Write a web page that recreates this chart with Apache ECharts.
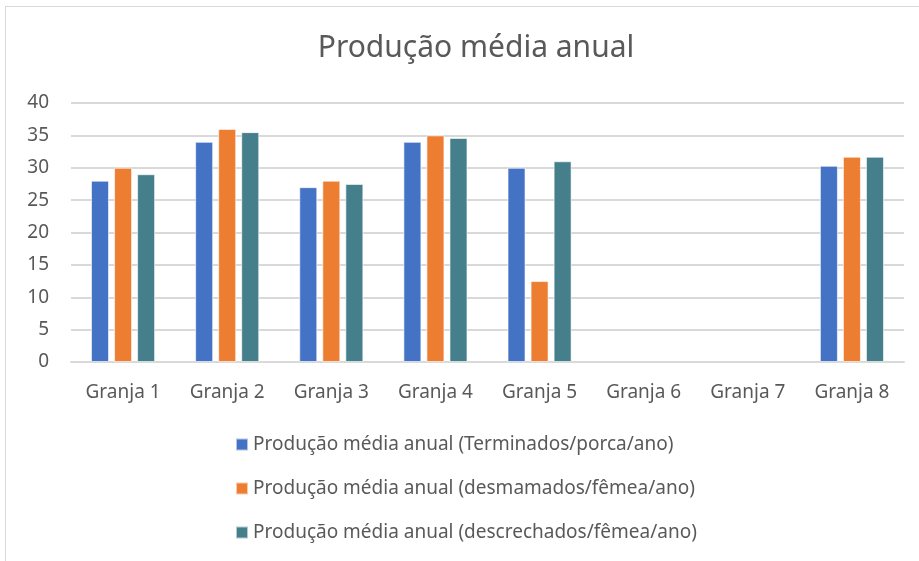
<!DOCTYPE html>
<html>
<head>
<meta charset="utf-8">
<script src="https://cdn.jsdelivr.net/npm/echarts@6/dist/echarts.min.js"></script>
<style>
html,body{margin:0;padding:0;background:#fff;}
#frame{position:absolute;left:5px;top:6px;width:940px;height:600px;border:1px solid #d9d9d9;box-sizing:border-box;}
#chart{position:absolute;left:0;top:0;width:919px;height:561px;}
</style>
</head>
<body>
<div id="frame"></div>
<div id="chart"></div>
<script>
const categories = ['Granja 1','Granja 2','Granja 3','Granja 4','Granja 5','Granja 6','Granja 7','Granja 8'];
const terminados = [28, 34, 27, 34, 30, null, null, 30.3];
const desmamados = [30, 36, 28, 35, 12.5, null, null, 31.7];
const descrechados = [29, 35.5, 27.5, 34.6, 31, null, null, 31.7];
const seriesNames = [
  'Produção média anual (Terminados/porca/ano)',
  'Produção média anual (desmamados/fêmea/ano)',
  'Produção média anual (descrechados/fêmea/ano)'
];
const colors = ['#4472C4', '#ED7D31', '#457F8C'];
const fontFamily = '"Noto Sans", "Open Sans", sans-serif';

const chart = echarts.init(document.getElementById('chart'));
const mk = (name, data, color) => ({
  name, type: 'bar', data, barWidth: 18, barGap: '28%',
  itemStyle: { color, borderColor: 'rgba(255,255,255,0.6)', borderWidth: 1 }
});
chart.setOption({
  animation: false,
  backgroundColor: 'transparent',
  textStyle: { fontFamily },
  title: {
    text: 'Produção média anual',
    left: 471, top: 28, textAlign: 'center',
    textStyle: { fontFamily, fontSize: 30, fontWeight: 'normal', color: '#595959' }
  },
  grid: { left: 71, right: 15, top: 103, bottom: 199 },
  xAxis: {
    type: 'category', data: categories,
    axisLine: { lineStyle: { color: '#d9d9d9', width: 2 } },
    axisTick: { show: false },
    axisLabel: { color: '#595959', fontSize: 19, margin: 21, fontFamily }
  },
  yAxis: {
    type: 'value', min: 0, max: 40, interval: 5,
    axisLine: { show: false }, axisTick: { show: false },
    splitLine: { lineStyle: { color: '#d9d9d9', width: 2 } },
    axisLabel: { color: '#595959', fontSize: 19, margin: 22, fontFamily }
  },
  legend: {
    orient: 'vertical', left: 230, top: 430, itemGap: 25,
    icon: 'rect', itemWidth: 12, itemHeight: 12,
    textStyle: { color: '#595959', fontSize: 19, fontFamily },
    data: seriesNames
  },
  series: [
    mk(seriesNames[0], terminados, colors[0]),
    mk(seriesNames[1], desmamados, colors[1]),
    mk(seriesNames[2], descrechados, colors[2])
  ]
});
</script>
</body>
</html>
